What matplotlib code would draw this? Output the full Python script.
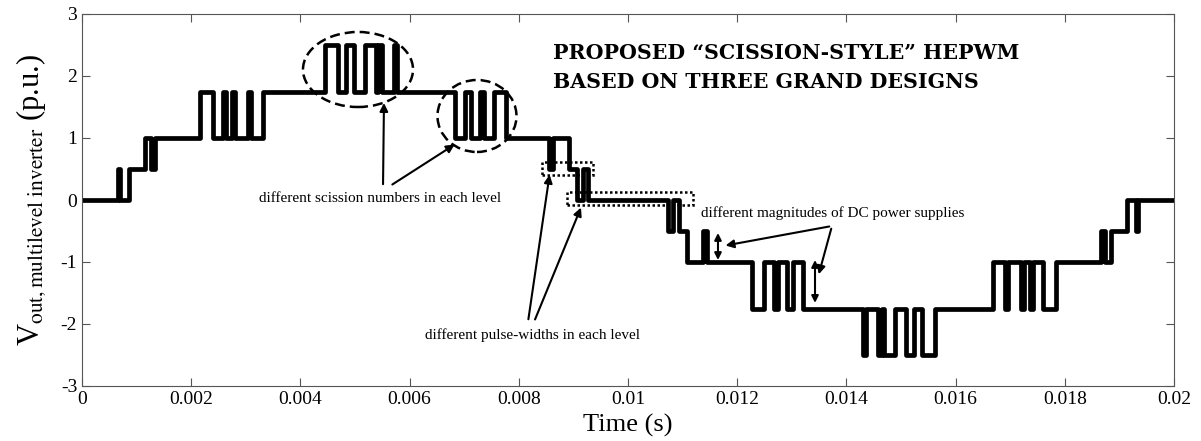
import matplotlib.pyplot as plt
from matplotlib.patches import Ellipse, Rectangle
from matplotlib.ticker import FuncFormatter

plt.rcParams['font.family'] = ['Liberation Serif', 'DejaVu Serif']
plt.rcParams['mathtext.fontset'] = 'stix'
plt.rcParams['axes.unicode_minus'] = False

# switching instants (s) and the output level right after each switch (p.u.)
switch_times = [0.000659, 0.000696, 0.000852, 0.001154, 0.001264, 0.001337,
                0.002161, 0.002399, 0.002582, 0.002637, 0.002747, 0.002802, 0.003040, 0.003095, 0.003315,
                0.004451, 0.004689, 0.004835, 0.004982, 0.005183, 0.005385, 0.005421, 0.005495, 0.005714, 0.005769,
                0.006832, 0.007015, 0.007125, 0.007289, 0.007363, 0.007546, 0.007766,
                0.008553, 0.008626, 0.008919, 0.009066, 0.009176, 0.009267,
                0.010733, 0.010824, 0.010934, 0.011081, 0.011374, 0.011447,
                0.012270, 0.012490, 0.012670, 0.012745, 0.012910, 0.013020, 0.013200,
                0.014301, 0.014356, 0.014575, 0.014649, 0.014685, 0.014887, 0.015088, 0.015235, 0.015381, 0.015619,
                0.016685, 0.016905, 0.016960, 0.017198, 0.017253, 0.017363, 0.017418, 0.017601, 0.017839,
                0.018663, 0.018736, 0.018846, 0.019148, 0.019304, 0.019341]
levels = [0.5, 0, 0.5, 1, 0.5, 1,
          1.75, 1, 1.75, 1, 1.75, 1, 1.75, 1, 1.75,
          2.5, 1.75, 2.5, 1.75, 2.5, 1.75, 2.5, 1.75, 2.5, 1.75,
          1, 1.75, 1, 1.75, 1, 1.75, 1,
          0.5, 1, 0.5, 0, 0.5, 0,
          -0.5, 0, -0.5, -1, -0.5, -1,
          -1.75, -1, -1.75, -1, -1.75, -1, -1.75,
          -2.5, -1.75, -2.5, -1.75, -2.5, -1.75, -2.5, -1.75, -2.5, -1.75,
          -1, -1.75, -1, -1.75, -1, -1.75, -1, -1.75, -1,
          -0.5, -1, -0.5, 0, -0.5, 0]

t = [0] + switch_times + [0.02]
v = [0] + levels + [levels[-1]]

fig = plt.figure(figsize=(12.01, 4.41), dpi=100)
ax = fig.add_axes([82 / 1201, 1 - 386 / 441, (1174 - 82) / 1201, (386 - 14) / 441])
ax.plot(t, v, color='black', lw=3.4, drawstyle='steps-post',
        solid_joinstyle='round', solid_capstyle='round')

ax.set_xlim(0, 0.02)
ax.set_ylim(-3, 3)
ax.set_xticks([0, 0.002, 0.004, 0.006, 0.008, 0.01, 0.012, 0.014, 0.016, 0.018, 0.02])
ax.set_yticks([-3, -2, -1, 0, 1, 2, 3])
ax.xaxis.set_major_formatter(FuncFormatter(lambda x, p: '%g' % round(x, 4)))
ax.tick_params(direction='in', top=True, right=True, length=6, labelsize=14, color='#555555')
for s in ax.spines:
    ax.spines[s].set_color('#555555')

ax.set_xlabel('Time (s)', fontsize=19, labelpad=4)
ax.set_ylabel(r'V$_{\mathrm{out,multilevel\ inverter}}$ (p.u.)', fontsize=22, labelpad=9)

# annotations
dash = dict(fill=False, ec='black', lw=1.8, ls=(0, (4, 2)))
ax.add_patch(Ellipse((0.005055, 2.105), 0.002015, 1.21, **dash))
ax.add_patch(Ellipse((0.007234, 1.355), 0.001447, 1.161, **dash))
dot = dict(fill=False, ec='black', lw=1.8, ls=(0, (1, 1)))
ax.add_patch(Rectangle((0.008425, 0.403), 0.000934, 0.21, **dot))
ax.add_patch(Rectangle((0.008883, -0.081), 0.002307, 0.21, **dot))

arr = dict(arrowstyle='-|>', color='black', lw=1.5, mutation_scale=12)
ax.text(0.005458, 0.02, 'different scission numbers in each level', fontsize=11, ha='center', va='center')
ax.annotate('', xy=(0.005531, 1.61), xytext=(0.005513, 0.21), arrowprops=arr)
ax.annotate('', xy=(0.006868, 0.919), xytext=(0.005641, 0.226), arrowprops=arr)

ax.text(0.008242, -2.18, 'different pulse-widths in each level', fontsize=11, ha='center', va='center')
ax.annotate('', xy=(0.008571, 0.452), xytext=(0.008168, -1.968), arrowprops=arr)
ax.annotate('', xy=(0.009158, -0.081), xytext=(0.008278, -1.968), arrowprops=arr)

ax.text(0.013755, -0.21, 'different magnitudes of DC power supplies', fontsize=11, ha='center', va='center')
ax.annotate('', xy=(0.011736, -0.742), xytext=(0.013736, -0.419), arrowprops=arr)
ax.annotate('', xy=(0.013480, -1.242), xytext=(0.013736, -0.419), arrowprops=arr)
dbl = dict(arrowstyle='<|-|>', color='black', lw=1.5, mutation_scale=10, shrinkA=0, shrinkB=0)
ax.annotate('', xy=(0.011648, -0.532), xytext=(0.011648, -0.968), arrowprops=dbl)
ax.annotate('', xy=(0.013425, -0.968), xytext=(0.013425, -1.66), arrowprops=dbl)

fig.text(553 / 1201, 1 - 43 / 441, 'PROPOSED \u201cSCISSION-STYLE\u201d HEPWM\nBASED ON THREE GRAND DESIGNS',
         family='DejaVu Serif', weight='heavy', fontsize=14.8, ha='left', va='top', linespacing=1.55)

fig.savefig('out.png', dpi=100)
